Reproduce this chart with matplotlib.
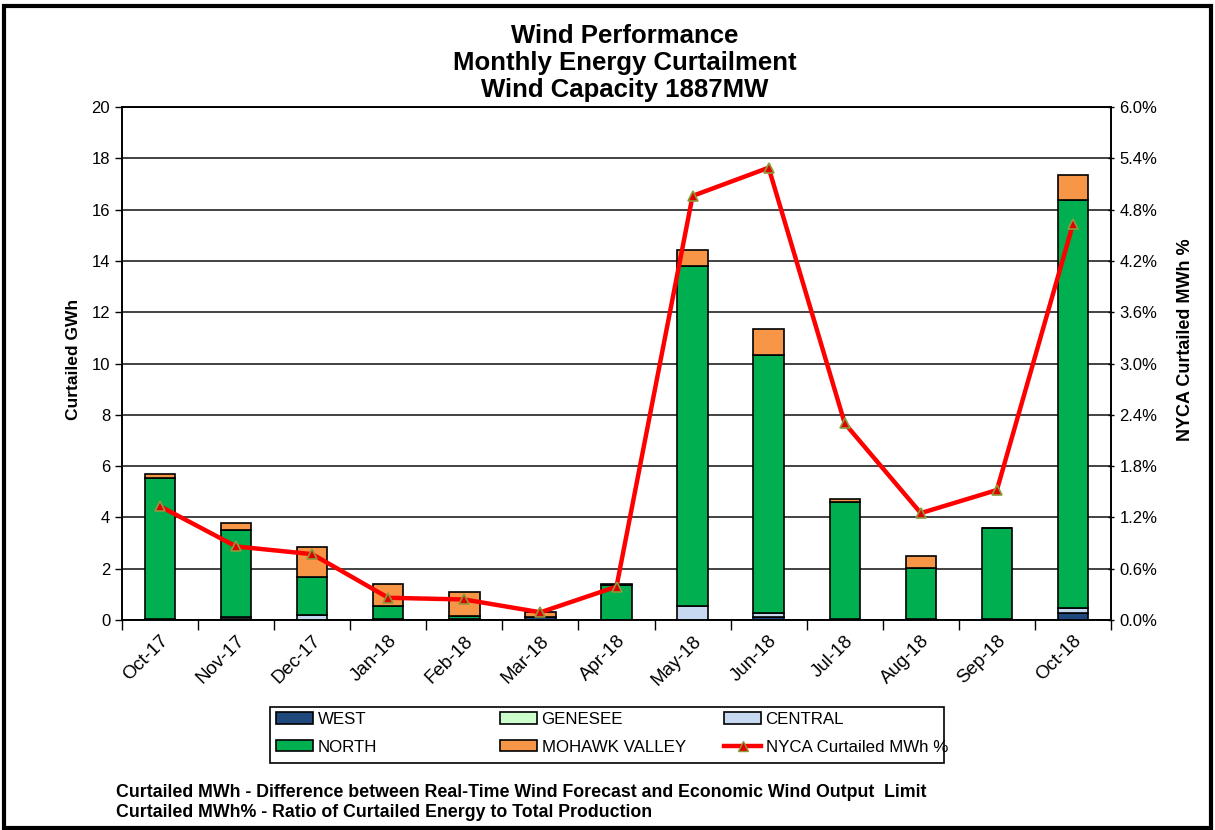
import matplotlib.pyplot as plt
import numpy as np
from matplotlib.patches import Rectangle, Patch
from matplotlib.lines import Line2D
from matplotlib.ticker import FuncFormatter, MultipleLocator

plt.rcParams['font.family'] = ['Liberation Sans', 'DejaVu Sans']

# monthly curtailment by zone (GWh)
months = ['Oct-17', 'Nov-17', 'Dec-17', 'Jan-18', 'Feb-18', 'Mar-18', 'Apr-18',
          'May-18', 'Jun-18', 'Jul-18', 'Aug-18', 'Sep-18', 'Oct-18']
west    = [0.05, 0.02, 0.00, 0.05, 0.05, 0.12, 0.00, 0.00, 0.12, 0.04, 0.04, 0.04, 0.26]
genesee = [0.00, 0.00, 0.00, 0.00, 0.00, 0.00, 0.00, 0.00, 0.00, 0.00, 0.00, 0.00, 0.00]
central = [0.00, 0.08, 0.20, 0.00, 0.00, 0.00, 0.00, 0.56, 0.14, 0.00, 0.00, 0.00, 0.19]
north   = [5.47, 3.41, 1.46, 0.51, 0.10, 0.00, 1.37, 13.24, 10.07, 4.57, 2.00, 3.53, 15.92]
mohawk  = [0.17, 0.28, 1.20, 0.83, 0.94, 0.18, 0.03, 0.63, 1.00, 0.11, 0.47, 0.03, 0.98]
# NYCA curtailed MWh %
nyca_pct = [1.33, 0.86, 0.77, 0.26, 0.24, 0.09, 0.39, 4.96, 5.29, 2.30, 1.25, 1.52, 4.63]

zones = [('WEST', west, '#1F497D'),
         ('GENESEE', genesee, '#CCFFCC'),
         ('CENTRAL', central, '#C6D9F1'),
         ('NORTH', north, '#00B050'),
         ('MOHAWK VALLEY', mohawk, '#F79646')]

W, H = 1215, 830
fig = plt.figure(figsize=(W / 100, H / 100), dpi=100)
ax = fig.add_axes([122/W, 1-620/H, (1111-122)/W, (620-107)/H])

x = np.arange(len(months))
bottom = np.zeros(len(months))
handles = {}
for name, vals, col in zones:
    vals = np.array(vals)
    ax.bar(x, vals, 0.4, bottom=bottom, color=col, edgecolor='black', linewidth=1.2, zorder=3)
    bottom += vals
    handles[name] = Patch(facecolor=col, edgecolor='black', linewidth=1.2)

ax.set_xlim(-0.5, len(months) - 0.5)
ax.set_ylim(0, 20)
ax.yaxis.set_major_locator(MultipleLocator(2))
ax.grid(axis='y', color='#222222', linewidth=1.2, zorder=0)
ax.set_axisbelow(True)
ax.set_xticks(x)
ax.set_xticklabels(months, rotation=45, ha='right', rotation_mode='anchor', fontsize=13.5)
ax.set_xticks(np.arange(-0.5, len(months), 1), minor=True)
ax.tick_params(axis='x', which='major', length=0, pad=9)
ax.tick_params(axis='x', which='minor', length=7, direction='out', width=1)
ax.tick_params(axis='y', labelsize=12, length=5, width=1)
ax.set_ylabel('Curtailed GWh', fontsize=12.5, fontweight='bold')
ax.yaxis.set_label_coords(-0.041, 0.507)
for s in ax.spines.values():
    s.set_color('black')
    s.set_linewidth(1.2)

ax2 = ax.twinx()
ax2.plot(x, nyca_pct, color='#FF0000', linewidth=3.2, marker='^', markersize=7,
         markerfacecolor='#E00000', markeredgecolor='#8C9A3A', markeredgewidth=1.2, zorder=5)
ax2.set_ylim(0, 6)
ax2.yaxis.set_major_locator(MultipleLocator(0.6))
ax2.yaxis.set_major_formatter(FuncFormatter(lambda v, p: '{:.1f}%'.format(v)))
ax2.tick_params(axis='y', labelsize=12, length=5, width=1, direction='inout')
ax2.set_ylabel('NYCA Curtailed MWh %', fontsize=13, fontweight='bold')
ax2.yaxis.set_label_coords(1.067, 0.546)
for s in ax2.spines.values():
    s.set_color('black')
    s.set_linewidth(1.2)

fig.text(625/W, 1-63/H, 'Wind Performance\nMonthly Energy Curtailment\nWind Capacity 1887MW',
         ha='center', va='center', fontsize=18.5, fontweight='bold', linespacing=1.18)

# legend: three columns with fixed starts, one frame around them
line_handle = Line2D([], [], color='#FF0000', linewidth=3.2, marker='^', markersize=7,
                     markerfacecolor='#E00000', markeredgecolor='#8C9A3A')
columns = [(276, ['WEST', 'NORTH']),
           (500, ['GENESEE', 'MOHAWK VALLEY']),
           (724, ['CENTRAL', 'NYCA Curtailed MWh %'])]
for xs, names in columns:
    hs = [line_handle if n.startswith('NYCA') else handles[n] for n in names]
    lg = fig.legend(hs, names, loc='upper left', bbox_to_anchor=(xs/W, 1-712/H),
                    frameon=False, fontsize=12.2, borderpad=0, borderaxespad=0,
                    handlelength=2.2, handleheight=0.65, handletextpad=0.25,
                    labelspacing=0.75)
fig.add_artist(Rectangle((270/W, 1-763/H), (944-270)/W, (763-707)/H, transform=fig.transFigure,
                         fill=False, edgecolor='black', linewidth=1.2))

fig.text(116/W, 1-792/H, 'Curtailed MWh - Difference between Real-Time Wind Forecast and Economic Wind Output  Limit',
         ha='left', va='center', fontsize=12.8, fontweight='bold')
fig.text(116/W, 1-812/H, 'Curtailed MWh% - Ratio of Curtailed Energy to Total Production',
         ha='left', va='center', fontsize=12.8, fontweight='bold')

fig.add_artist(Rectangle((0.003, 0.003), 0.994, 0.990, transform=fig.transFigure,
                         fill=False, edgecolor='black', linewidth=3))

fig.savefig('out.png', dpi=100)
